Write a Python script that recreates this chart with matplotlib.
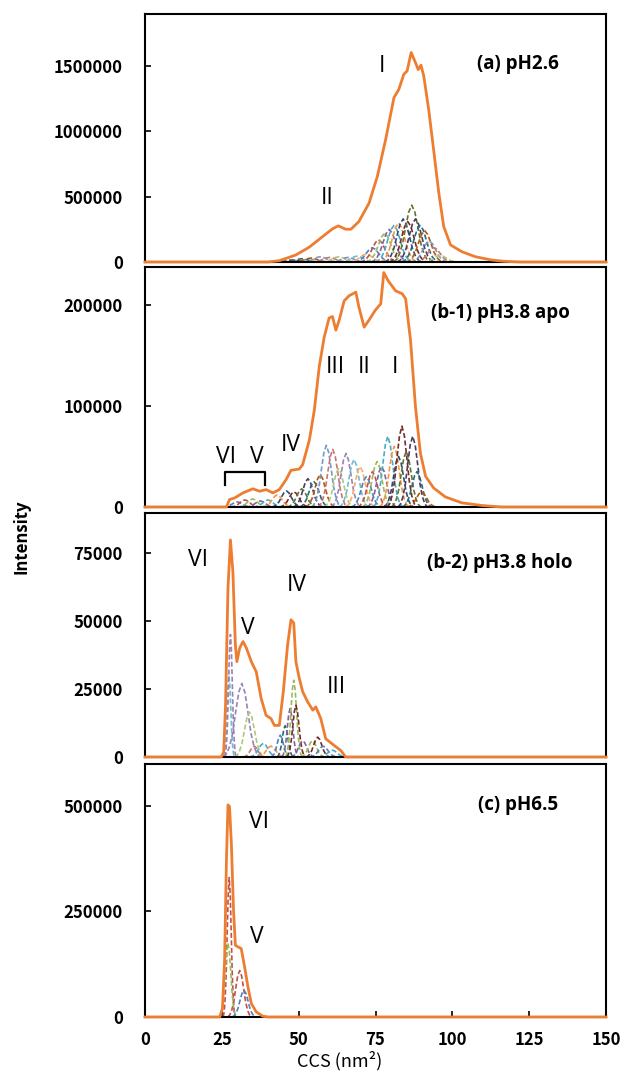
import numpy as np
import matplotlib.pyplot as plt

# ---- data (CCS in nm^2, intensity in counts) ----

# summed arrival-time / CCS profiles (orange)
ccs_a = [0, 40, 43.7, 49.1, 53.4, 57.8, 61.0, 62.9, 65.3, 67.0, 69.6, 72.9, 75.6, 78.3, 81.0,
         82.6, 84.2, 85.3, 86.6, 88.0, 88.9, 89.8, 90.7, 92.3, 93.9, 95.6, 97.2, 99.4, 103.1,
         107.4, 112.8, 117, 122, 150]
int_a = [0, 0, 10000, 54000, 113000, 195000, 254000, 277000, 251000, 251000, 310000, 451000,
         656000, 938000, 1259000, 1323000, 1438000, 1464000, 1605000, 1528000, 1474000, 1508000,
         1425000, 1169000, 862000, 528000, 272000, 131000, 79000, 41000, 15000, 5000, 0, 0]

ccs_b1 = [0, 26.5, 27.5, 29.2, 31.9, 35.1, 37.3, 39.4, 41.6, 43.7, 45.9, 47.5, 50.2, 51.3, 53.5,
          55.1, 56.7, 58.3, 59.9, 61.0, 62.1, 63.2, 64.8, 66.4, 68.6, 69.6, 71.3, 72.9, 75.0,
          76.7, 77.7, 79.1, 81.5, 83.7, 84.8, 86.4, 88.0, 89.6, 91.3, 93.9, 97.7, 103.1, 109.6,
          116, 150]
int_b1 = [0, 0, 7400, 9000, 14000, 18000, 15600, 17200, 14000, 17200, 27100, 36300, 37600,
          41900, 66500, 96000, 139000, 168000, 187000, 188500, 175000, 185000, 204000, 209000,
          212600, 197800, 178000, 185000, 195000, 201000, 232000, 224000, 214000, 211000,
          206000, 165000, 99300, 53400, 30300, 18900, 10000, 4100, 1500, 0, 0]

ccs_b2 = [0, 24.8, 25.6, 26.2, 27.0, 27.8, 28.6, 29.4, 29.9, 30.8, 31.9, 33.0, 34.6, 36.2, 37.8,
          39.4, 41.0, 42.1, 43.7, 45.0, 46.4, 47.5, 48.4, 49.1, 50.2, 51.3, 52.9, 54.6, 55.6,
          57.2, 58.8, 61.6, 63.7, 65.3, 150]
int_b2 = [0, 0, 1700, 19000, 62000, 79700, 68000, 41200, 35000, 40000, 42400, 40000, 35000,
          31300, 21500, 15300, 14100, 11600, 11600, 24000, 41200, 50400, 49200, 35000, 28900,
          24000, 20300, 17200, 18400, 14100, 6700, 4200, 2400, 0, 0]

ccs_c = [0, 24.3, 25.2, 25.9, 26.5, 27.0, 27.5, 28.1, 28.8, 29.4, 30.2, 31.3, 32.4, 33.5, 34.6,
         36.2, 38.3, 40, 150]
int_c = [0, 0, 20000, 135000, 372000, 502000, 498000, 411000, 253000, 170000, 166000, 162000,
         119000, 71000, 32000, 12000, 2000, 0, 0]

# fitted components (dashed): peak centre, peak height, width
comp_c_a = [48, 51, 54, 57, 60, 63, 66, 69, 72, 74, 76, 78, 79.5, 81, 82.5, 84, 85.5, 86.8,
            88, 89.5, 91, 92.5, 94, 96]
comp_h_a = [15000, 25000, 30000, 40000, 35000, 40000, 35000, 45000, 60000, 110000, 170000,
            220000, 250000, 280000, 300000, 330000, 310000, 435000, 330000, 280000, 240000,
            160000, 110000, 50000]
comp_w_a = [2.0] * 24

comp_c_b1 = [30, 32.5, 35, 37.5, 40, 43, 46, 48.5, 51, 53, 55, 57, 59, 61.1, 63, 65.4, 68, 70,
             72, 74, 75.5, 77, 79, 81.1, 82.5, 83.6, 85, 87.1, 88.5, 90]
comp_h_b1 = [5000, 7000, 8000, 6000, 7000, 12000, 16000, 15000, 18000, 28000, 25000, 32000,
             61000, 57000, 38000, 53000, 47000, 40000, 30000, 35000, 45000, 40000, 70000, 60000,
             50000, 80000, 55000, 70000, 35000, 15000]
comp_w_b1 = [1.6] * 30

comp_c_b2 = [27.3, 27.8, 31.5, 34.0, 35.5, 38.5, 41, 44, 45.6, 47.2, 48.4, 49.1, 51.3, 54.5,
             56.2, 58, 61]
comp_h_b2 = [30000, 45000, 27000, 16500, 4000, 5000, 4000, 8000, 11500, 17800, 28200, 19000,
             6000, 6000, 7300, 4000, 2500]
comp_w_b2 = [0.6, 0.6, 2.0, 1.6, 1.2, 1.5, 1.5, 1.0, 0.9, 0.9, 0.9, 1.0, 1.3, 1.3, 1.3, 1.5,
             1.5]

comp_c_c = [27.4, 30.8, 27.0, 32.2]
comp_h_c = [330000, 110000, 175000, 63500]
comp_w_c = [0.65, 1.3, 0.9, 1.3]

# tabulated unit peak used for each component
shape_x = [-3, -2.5, -2, -1.5, -1, -0.5, 0, 0.5, 1, 1.5, 2, 2.5, 3]
shape_y = [0, 0.04, 0.14, 0.32, 0.61, 0.88, 1, 0.88, 0.61, 0.32, 0.14, 0.04, 0]

palette = ['#4F81BD', '#C0504D', '#9BBB59', '#8064A2', '#4BACC6', '#F79646',
           '#2C4D75', '#772C2A', '#5F7530', '#4D3B62', '#276A7C', '#B65708',
           '#729ACA', '#CD7371', '#AFC97A', '#9983B5', '#6FBDD1', '#F9AB6B']
colors_b2 = ['#6FBDD1', '#9983B5', '#9983B5', '#AFC97A', '#CD7371', '#4BACC6', '#F79646',
             '#4F81BD', '#276A7C', '#8064A2', '#9BBB59', '#772C2A', '#8064A2', '#9BBB59',
             '#772C2A', '#4F81BD', '#4BACC6']
colors_c = ['#C0504D', '#C0504D', '#9BBB59', '#4F81BD']

ORANGE = '#ED7D31'
tick_font = dict(family=['Noto Sans CJK JP', 'DejaVu Sans'], weight='bold', size=12)
label_font = dict(family='Open Sans', size=16.5)
title_font = dict(family='Open Sans', weight='bold', size=13.5)

fig = plt.figure(figsize=(6.22, 10.77), dpi=100)
H = 1077.0
W = 622.0
# (top, bottom) in pixels for each panel
boxes = [(14, 262), (267, 507), (513, 757), (764, 1017)]
axes = []
for top, bot in boxes:
    ax = fig.add_axes([145 / W, 1 - bot / H, (606 - 145) / W, (bot - top) / H])
    axes.append(ax)


def draw_panel(ax, ccs, inten, cc, hh, ww, cols, ymax, yticks, ylabels):
    for i in range(len(cc)):
        xs = [cc[i] + ww[i] * s for s in shape_x]
        ys = [hh[i] * s for s in shape_y]
        ax.plot(xs, ys, linestyle=(0, (3, 1.5)), lw=1.2, color=cols[i % len(cols)], zorder=2)
    ax.plot(ccs, inten, color=ORANGE, lw=2.0, zorder=4, clip_on=False)
    ax.set_xlim(0, 150)
    ax.set_ylim(0, ymax)
    ax.set_yticks(yticks)
    ax.set_yticklabels(ylabels, **tick_font)
    ax.tick_params(axis='y', direction='in', length=4, width=1.2, pad=16)
    ax.tick_params(axis='x', direction='in', length=4, width=1.2, pad=10)
    for sp in ax.spines.values():
        sp.set_linewidth(1.5)
        sp.set_zorder(3)


draw_panel(axes[0], ccs_a, int_a, comp_c_a, comp_h_a, comp_w_a,
           palette[9:] + palette[:9], 1.9e6,
           [0, 500000, 1000000, 1500000], ['0', '500000', '1000000', '1500000'])
draw_panel(axes[1], ccs_b1, int_b1, comp_c_b1, comp_h_b1, comp_w_b1, palette, 237500,
           [0, 100000, 200000], ['0', '100000', '200000'])
draw_panel(axes[2], ccs_b2, int_b2, comp_c_b2, comp_h_b2, comp_w_b2, colors_b2, 89600,
           [0, 25000, 50000, 75000], ['0', '25000', '50000', '75000'])
draw_panel(axes[3], ccs_c, int_c, comp_c_c, comp_h_c, comp_w_c, colors_c, 598700,
           [0, 250000, 500000], ['0', '250000', '500000'])

for ax in axes[:3]:
    ax.set_xticks([])
axes[3].set_xticks([0, 25, 50, 75, 100, 125, 150])
axes[3].set_xticklabels(['0', '25', '50', '75', '100', '125', '150'], **tick_font)

# panel titles
axes[0].text(121.5, 1.515e6, '(a) pH2.6', ha='center', va='center', **title_font)
axes[1].text(115.5, 191800, '(b-1) pH3.8 apo', ha='center', va='center', **title_font)
axes[2].text(115.5, 71100, '(b-2) pH3.8 holo', ha='center', va='center', **title_font)
axes[3].text(121.5, 501700, '(c) pH6.5', ha='center', va='center', **title_font)

# conformer labels
axes[0].text(77.0, 1.498e6, 'I', ha='center', va='center', **label_font)
axes[0].text(59.3, 488000, 'II', ha='center', va='center', **label_font)

axes[1].text(62.0, 138300, 'III', ha='center', va='center', **label_font)
axes[1].text(71.2, 138300, 'II', ha='center', va='center', **label_font)
axes[1].text(81.4, 138300, 'I', ha='center', va='center', **label_font)
axes[1].text(47.4, 61400, 'IV', ha='center', va='center', **label_font)
axes[1].text(26.2, 49800, 'VI', ha='center', va='center', **label_font)
axes[1].text(36.5, 49800, 'V', ha='center', va='center', **label_font)
axes[1].plot([25.9, 25.9, 38.9, 38.9], [22200, 34800, 34800, 22200], color='black', lw=1.6)

axes[2].text(17.3, 72300, 'VI', ha='center', va='center', **label_font)
axes[2].text(33.3, 47200, 'V', ha='center', va='center', **label_font)
axes[2].text(49.4, 63100, 'IV', ha='center', va='center', **label_font)
axes[2].text(62.4, 25800, 'III', ha='center', va='center', **label_font)

axes[3].text(37.2, 462000, 'VI', ha='center', va='center', **label_font)
axes[3].text(36.5, 190000, 'V', ha='center', va='center', **label_font)

fig.text(22 / W, 1 - 537 / H, 'Intensity', rotation=90, ha='center', va='center',
         family='Open Sans', weight='bold', size=12)
fig.text(340 / W, 1 - 1061 / H, 'CCS (nm²)', ha='center', va='center',
         family=['Noto Sans CJK JP', 'DejaVu Sans'], size=13)

fig.savefig('out.png', dpi=100)
